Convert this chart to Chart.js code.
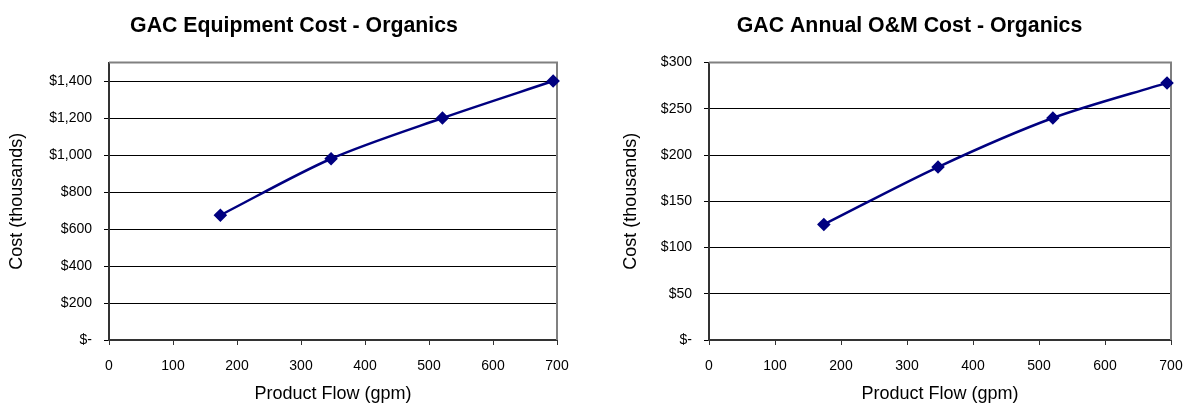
<!DOCTYPE html>
<html>
<head>
<meta charset="utf-8">
<script src="https://cdn.jsdelivr.net/npm/chart.js@4"></script>
<style>
	html, body { margin: 0; background: #fff; overflow: hidden; }
	canvas { position: absolute; top: 0; }
</style>
</head>
<body>
<canvas id="equipChart" width="588" height="406" style="left:0"></canvas>
<canvas id="omChart" width="575" height="406" style="left:622px"></canvas>
<script>
const flowGpm = [174, 347, 521, 694];
const equipmentCost = [675, 980, 1200, 1400];
const omCost = [125, 187, 240, 278];
const flowTicks = [0, 100, 200, 300, 400, 500, 600, 700];
const equipTicks = [0, 200, 400, 600, 800, 1000, 1200, 1400];
const omTicks = [0, 50, 100, 150, 200, 250, 300];

Chart.defaults.font.family = "'Liberation Sans', Arial, sans-serif";
Chart.defaults.color = "#000";

const money = (v) => (v === 0 ? "$-" : "$" + v.toLocaleString("en-US"));

// grey frame on the open sides of the plot area
const plotFrame = {
	id: "plotFrame",
	beforeDatasetsDraw(chart) {
		const { ctx, chartArea: a } = chart;
		ctx.save();
		ctx.strokeStyle = "#808080";
		ctx.lineWidth = 2;
		ctx.beginPath();
		ctx.moveTo(a.left, a.top);
		ctx.lineTo(a.right, a.top);
		ctx.lineTo(a.right, a.bottom);
		ctx.stroke();
		ctx.restore();
	},
};

function costChart(id, title, values, yTicks, yMax, yWidth, yTitlePad, rightGap) {
	const points = flowGpm.map((x, i) => ({ x: x, y: values[i] }));
	return new Chart(document.getElementById(id), {
		type: "line",
		data: {
			datasets: [
				{
					data: points,
					borderColor: "#000080",
					backgroundColor: "#000080",
					borderWidth: 2.5,
					tension: 0.3,
					pointStyle: "rectRot",
					pointRadius: 5,
					pointHoverRadius: 5,
					clip: false,
				},
			],
		},
		options: {
			responsive: false,
			animation: false,
			devicePixelRatio: 1,
			layout: { padding: 0 },
			plugins: {
				legend: { display: false },
				tooltip: { enabled: false },
				title: {
					display: true,
					text: title,
					font: { size: 21.3, weight: "bold" },
					padding: { top: 13, bottom: 24 },
				},
			},
			scales: {
				x: {
					type: "linear",
					min: 0,
					max: 700,
					afterBuildTicks: (s) => (s.ticks = flowTicks.map((v) => ({ value: v }))),
					afterFit: (s) => (s.height = 66),
					grid: { drawOnChartArea: false, tickLength: 5, color: "#333" },
					border: { color: "#333", width: 2 },
					ticks: { font: { size: 14 }, padding: 13, maxRotation: 0 },
					title: {
						display: true,
						text: "Product Flow (gpm)",
						font: { size: 18, lineHeight: 1 },
						padding: { top: 0, bottom: 3 },
					},
				},
				y: {
					min: 0,
					max: yMax,
					afterBuildTicks: (s) => (s.ticks = yTicks.map((v) => ({ value: v }))),
					afterFit: (s) => (s.width = yWidth),
					grid: { color: "#000", lineWidth: 1, tickLength: 5 },
					border: { color: "#333", width: 2 },
					ticks: { font: { size: 14 }, padding: 12, callback: money },
					title: {
						display: true,
						text: "Cost (thousands)",
						font: { size: 18, lineHeight: 1 },
						padding: { top: yTitlePad, bottom: 0 },
					},
				},
				// empty right-hand strip that keeps the title centred on the whole panel
				gap: {
					position: "right",
					display: true,
					afterFit: (s) => (s.width = rightGap),
					grid: { display: false },
					border: { display: false },
					ticks: { display: false },
				},
			},
		},
		plugins: [plotFrame],
	});
}

costChart("equipChart", "GAC Equipment Cost - Organics", equipmentCost, equipTicks, 1500, 109, 8, 31);
costChart("omChart", "GAC Annual O&M Cost - Organics", omCost, omTicks, 300, 87, 0, 26);
</script>
</body>
</html>
